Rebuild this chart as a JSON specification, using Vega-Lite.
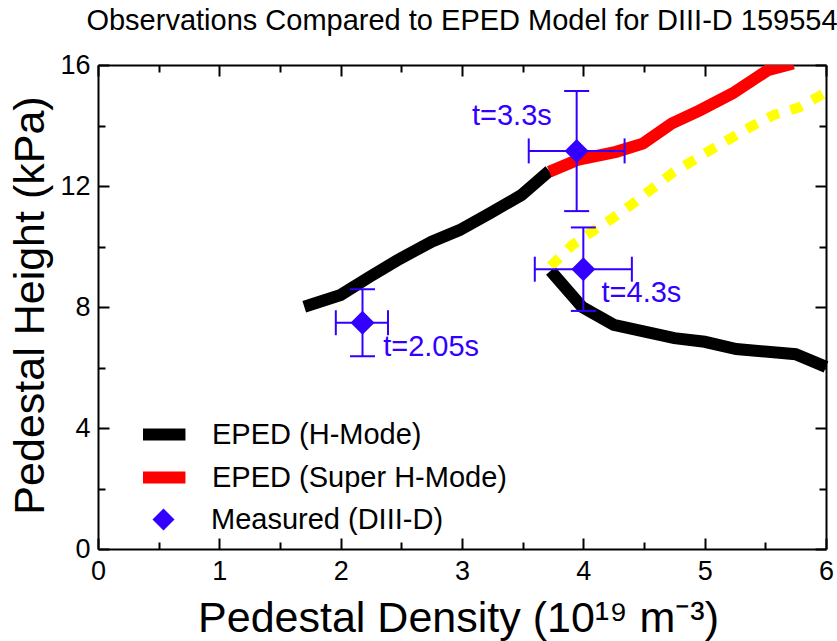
{
  "$schema": "https://vega.github.io/schema/vega-lite/v6.json",
  "width": 728,
  "height": 484,
  "autosize": "none",
  "padding": {"left": 98, "top": 65, "right": 11, "bottom": 92},
  "background": "white",
  "config": {"font": "Liberation Sans", "view": {"stroke": null}},
  "title": {"text": "Observations Compared to EPED Model for DIII-D 159554", "fontSize": 29, "font": "Liberation Sans", "fontWeight": "normal", "color": "black", "anchor": "middle", "frame": "group", "baseline": "alphabetic", "offset": -8},
  "datasets": {
    "curves": [
      {"series": "EPED (H-Mode)", "branch": "a", "ne": 1.70, "p": 8.01},
      {"series": "EPED (H-Mode)", "branch": "a", "ne": 2.0, "p": 8.4},
      {"series": "EPED (H-Mode)", "branch": "a", "ne": 2.24, "p": 9.0},
      {"series": "EPED (H-Mode)", "branch": "a", "ne": 2.49, "p": 9.6},
      {"series": "EPED (H-Mode)", "branch": "a", "ne": 2.75, "p": 10.16},
      {"series": "EPED (H-Mode)", "branch": "a", "ne": 2.98, "p": 10.54},
      {"series": "EPED (H-Mode)", "branch": "a", "ne": 3.23, "p": 11.1},
      {"series": "EPED (H-Mode)", "branch": "a", "ne": 3.49, "p": 11.7},
      {"series": "EPED (H-Mode)", "branch": "a", "ne": 3.72, "p": 12.5},
      {"series": "EPED (H-Mode)", "branch": "b", "ne": 3.73, "p": 9.2},
      {"series": "EPED (H-Mode)", "branch": "b", "ne": 3.99, "p": 8.0},
      {"series": "EPED (H-Mode)", "branch": "b", "ne": 4.25, "p": 7.41},
      {"series": "EPED (H-Mode)", "branch": "b", "ne": 4.75, "p": 6.97},
      {"series": "EPED (H-Mode)", "branch": "b", "ne": 5.0, "p": 6.85},
      {"series": "EPED (H-Mode)", "branch": "b", "ne": 5.26, "p": 6.61},
      {"series": "EPED (H-Mode)", "branch": "b", "ne": 5.75, "p": 6.44},
      {"series": "EPED (H-Mode)", "branch": "b", "ne": 6.0, "p": 6.02},
      {"series": "EPED (Super H-Mode)", "branch": "c", "ne": 3.72, "p": 12.47},
      {"series": "EPED (Super H-Mode)", "branch": "c", "ne": 3.95, "p": 12.86},
      {"series": "EPED (Super H-Mode)", "branch": "c", "ne": 4.27, "p": 13.13},
      {"series": "EPED (Super H-Mode)", "branch": "c", "ne": 4.49, "p": 13.4},
      {"series": "EPED (Super H-Mode)", "branch": "c", "ne": 4.73, "p": 14.07},
      {"series": "EPED (Super H-Mode)", "branch": "c", "ne": 4.96, "p": 14.5},
      {"series": "EPED (Super H-Mode)", "branch": "c", "ne": 5.23, "p": 15.06},
      {"series": "EPED (Super H-Mode)", "branch": "c", "ne": 5.52, "p": 15.83},
      {"series": "EPED (Super H-Mode)", "branch": "c", "ne": 5.73, "p": 16.05}
    ],
    "yellow": [
      {"ne": 3.73, "p": 9.35},
      {"ne": 3.91, "p": 10.05},
      {"ne": 4.07, "p": 10.49},
      {"ne": 4.24, "p": 10.93},
      {"ne": 4.41, "p": 11.42},
      {"ne": 4.73, "p": 12.42},
      {"ne": 5.07, "p": 13.24},
      {"ne": 5.4, "p": 14.0},
      {"ne": 5.57, "p": 14.35},
      {"ne": 5.78, "p": 14.6},
      {"ne": 6.0, "p": 15.1}
    ],
    "meas": [
      {"kind": "Measured (DIII-D)", "t": "t=2.05s", "ne": 2.18, "p": 7.48, "nelo": 1.96, "nehi": 2.39, "plo": 6.37, "phi": 8.59},
      {"kind": "Measured (DIII-D)", "t": "t=3.3s", "ne": 3.945, "p": 13.16, "nelo": 3.55, "nehi": 4.34, "plo": 11.17, "phi": 15.14},
      {"kind": "Measured (DIII-D)", "t": "t=4.3s", "ne": 4.0, "p": 9.25, "nelo": 3.6, "nehi": 4.4, "plo": 7.87, "phi": 10.63}
    ],
    "labels": [
      {"label": "t=2.05s", "ne": 2.35, "p": 6.68, "side": "left"},
      {"label": "t=3.3s", "ne": 3.74, "p": 14.3, "side": "right"},
      {"label": "t=4.3s", "ne": 4.15, "p": 8.45, "side": "left"}
    ]
  },
  "layer": [
    {
      "data": {"name": "curves"},
      "transform": [{"filter": "datum.series === 'EPED (H-Mode)'"}],
      "mark": {"type": "line", "strokeWidth": 12},
      "encoding": {
        "x": {"field": "ne", "type": "quantitative", "scale": {"domain": [0, 6], "nice": false, "zero": false},
          "axis": {"orient": "bottom", "values": [0, 0.5, 1, 1.5, 2, 2.5, 3, 3.5, 4, 4.5, 5, 5.5, 6],
            "labelExpr": "datum.value % 1 === 0 ? format(datum.value, 'd') : ''",
            "tickSize": {"condition": {"test": "datum.value % 1 === 0", "value": -11}, "value": -7},
            "tickWidth": 2, "tickColor": "black", "domainWidth": 2, "domainColor": "black", "grid": false,
            "labelFontSize": 27, "labelColor": "black", "labelPadding": 20, "labelFlush": false, "labelOverlap": false,
            "title": "Pedestal Density (10¹⁹ m⁻³)", "titleFontSize": 43, "titleFontWeight": "normal", "titleColor": "black",
            "titleX": 360, "titleY": 82, "titleBaseline": "alphabetic", "titleAlign": "center"}},
        "y": {"field": "p", "type": "quantitative", "scale": {"domain": [0, 16], "nice": false, "zero": false},
          "axis": {"orient": "left", "values": [0, 2, 4, 6, 8, 10, 12, 14, 16],
            "labelExpr": "datum.value % 4 === 0 ? format(datum.value, 'd') : ''",
            "tickSize": {"condition": {"test": "datum.value % 4 === 0", "value": -11}, "value": -7},
            "tickWidth": 2, "tickColor": "black", "domainWidth": 2, "domainColor": "black", "grid": false,
            "labelFontSize": 27, "labelColor": "black", "labelPadding": 19, "labelFlush": false, "labelOverlap": false,
            "title": "Pedestal Height (kPa)", "titleFontSize": 43, "titleFontWeight": "normal", "titleColor": "black",
            "titleX": -55, "titleY": 240, "titleAngle": -90, "titleBaseline": "alphabetic", "titleAlign": "center"}},
        "color": {"field": "series", "type": "nominal",
          "scale": {"domain": ["EPED (H-Mode)", "EPED (Super H-Mode)"], "range": ["black", "#ff0000"]},
          "legend": {"orient": "none", "legendX": 45, "legendY": 348, "title": null, "padding": 0,
            "symbolType": "M-1.43,0H1.43", "symbolSize": 900, "symbolStrokeWidth": 12, "labelLimit": 500,
            "labelFontSize": 29, "labelColor": "black", "labelOffset": 27, "rowPadding": 0, "clipHeight": 43}},
        "detail": {"field": "branch"}
      }
    },
    {
      "data": {"name": "yellow"},
      "mark": {"type": "line", "color": "#ffff00", "strokeWidth": 10, "strokeDash": [12, 12]},
      "encoding": {
        "x": {"field": "ne", "type": "quantitative", "axis": null},
        "y": {"field": "p", "type": "quantitative", "axis": null}
      }
    },
    {
      "data": {"name": "curves"},
      "transform": [{"filter": "datum.series === 'EPED (Super H-Mode)'"}],
      "mark": {"type": "line", "strokeWidth": 12, "clip": true},
      "encoding": {
        "x": {"field": "ne", "type": "quantitative",
          "axis": {"orient": "top", "values": [0, 0.5, 1, 1.5, 2, 2.5, 3, 3.5, 4, 4.5, 5, 5.5, 6], "labels": false, "title": null,
            "tickSize": {"condition": {"test": "datum.value % 1 === 0", "value": -11}, "value": -7},
            "tickWidth": 2, "tickColor": "black", "domainWidth": 2, "domainColor": "black", "grid": false}},
        "y": {"field": "p", "type": "quantitative",
          "axis": {"orient": "right", "values": [0, 2, 4, 6, 8, 10, 12, 14, 16], "labels": false, "title": null,
            "tickSize": {"condition": {"test": "datum.value % 4 === 0", "value": -11}, "value": -7},
            "tickWidth": 2, "tickColor": "black", "domainWidth": 2, "domainColor": "black", "grid": false}},
        "color": {"field": "series", "type": "nominal"},
        "detail": {"field": "branch"}
      }
    },
    {
      "data": {"name": "meas"},
      "mark": {"type": "rule", "color": "#3300ff", "strokeWidth": 2},
      "encoding": {
        "x": {"field": "nelo", "type": "quantitative", "axis": null},
        "x2": {"field": "nehi"},
        "y": {"field": "p", "type": "quantitative", "axis": null}
      }
    },
    {
      "data": {"name": "meas"},
      "mark": {"type": "rule", "color": "#3300ff", "strokeWidth": 2},
      "encoding": {
        "x": {"field": "ne", "type": "quantitative", "axis": null},
        "y": {"field": "plo", "type": "quantitative", "axis": null},
        "y2": {"field": "phi"}
      }
    },
    {
      "data": {"name": "meas"},
      "mark": {"type": "tick", "color": "#3300ff", "orient": "vertical", "size": 25, "thickness": 2, "opacity": 1},
      "encoding": {
        "x": {"field": "nelo", "type": "quantitative", "axis": null},
        "y": {"field": "p", "type": "quantitative", "axis": null}
      }
    },
    {
      "data": {"name": "meas"},
      "mark": {"type": "tick", "color": "#3300ff", "orient": "vertical", "size": 25, "thickness": 2, "opacity": 1},
      "encoding": {
        "x": {"field": "nehi", "type": "quantitative", "axis": null},
        "y": {"field": "p", "type": "quantitative", "axis": null}
      }
    },
    {
      "data": {"name": "meas"},
      "mark": {"type": "tick", "color": "#3300ff", "orient": "horizontal", "size": 25, "thickness": 2, "opacity": 1},
      "encoding": {
        "x": {"field": "ne", "type": "quantitative", "axis": null},
        "y": {"field": "plo", "type": "quantitative", "axis": null}
      }
    },
    {
      "data": {"name": "meas"},
      "mark": {"type": "tick", "color": "#3300ff", "orient": "horizontal", "size": 25, "thickness": 2, "opacity": 1},
      "encoding": {
        "x": {"field": "ne", "type": "quantitative", "axis": null},
        "y": {"field": "phi", "type": "quantitative", "axis": null}
      }
    },
    {
      "data": {"name": "meas"},
      "mark": {"type": "point", "filled": true, "color": "#3300ff", "opacity": 1, "size": 576},
      "encoding": {
        "x": {"field": "ne", "type": "quantitative", "axis": null},
        "y": {"field": "p", "type": "quantitative", "axis": null},
        "shape": {"field": "kind", "type": "nominal", "scale": {"domain": ["Measured (DIII-D)"], "range": ["diamond"]},
          "legend": {"orient": "none", "legendX": 51, "legendY": 440, "title": null, "padding": 0,
            "symbolSize": 484, "symbolFillColor": "#3300ff", "symbolStrokeWidth": 0, "labelLimit": 500,
            "labelFontSize": 29, "labelColor": "black", "labelOffset": 33}}
      }
    },
    {
      "data": {"name": "labels"},
      "transform": [{"filter": "datum.side === 'left'"}],
      "mark": {"type": "text", "align": "left", "baseline": "middle", "fontSize": 29, "color": "#3300ff"},
      "encoding": {
        "x": {"field": "ne", "type": "quantitative", "axis": null},
        "y": {"field": "p", "type": "quantitative", "axis": null},
        "text": {"field": "label"}
      }
    },
    {
      "data": {"name": "labels"},
      "transform": [{"filter": "datum.side === 'right'"}],
      "mark": {"type": "text", "align": "right", "baseline": "middle", "fontSize": 29, "color": "#3300ff"},
      "encoding": {
        "x": {"field": "ne", "type": "quantitative", "axis": null},
        "y": {"field": "p", "type": "quantitative", "axis": null},
        "text": {"field": "label"}
      }
    }
  ],
  "resolve": {"axis": {"x": "independent", "y": "independent"}}
}
